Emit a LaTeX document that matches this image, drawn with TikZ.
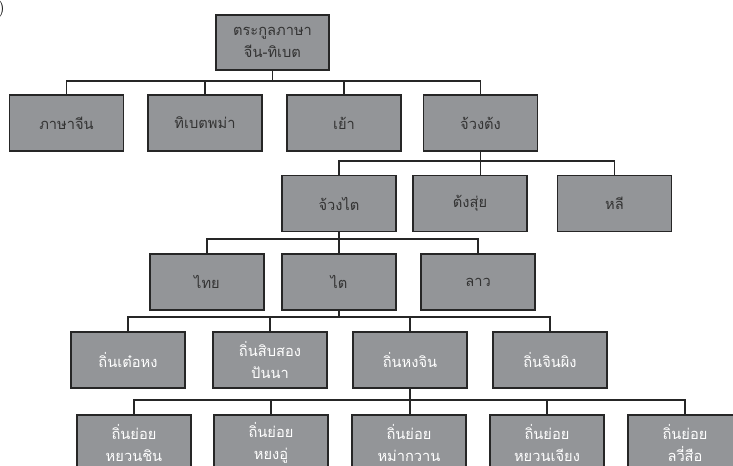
\documentclass[tikz,border=0pt]{standalone}
\usepackage{fontspec}
\newfontfamily\thaifont[Script=Thai]{Loma}
\usetikzlibrary{positioning}
\definecolor{boxgray}{HTML}{939598}
\definecolor{inkgray}{HTML}{333333}

\begin{document}
\begin{tikzpicture}[
        x=0.75pt, y=-0.75pt,
        lang/.style={draw=black!85, line width=0.9pt, rectangle, fill=boxgray, minimum width=85.5pt, minimum height=42pt, align=center, inner sep=0pt, text=inkgray, font=\thaifont\fontsize{11}{17}\selectfont},
        dialect/.style={lang, text=white},
        link/.style={draw=black!85, line width=0.8pt}
    ]
    \useasboundingbox (0,0) rectangle (733,465);
    \clip (0,0) rectangle (733,465);
    \node[anchor=north east, font=\fontsize{13}{13}\selectfont, inner sep=0pt] (mark) at (5,0) {)};

    % --- family ---
    \node[lang, minimum width=84.75pt, minimum height=41.25pt] (root) at (272.5,42.5) {ตระกูลภาษา\\จีน-ทิเบต};
    \coordinate (bus1) at (0,81);

    % --- branches ---
    \node[lang] (zh) at (66.5,123) {ภาษาจีน};
    \node[lang] (tb) at (205,123) {ทิเบตพม่า};
    \node[lang] (yao) at (344,123) {เย้า};
    \node[lang] (zd) at (480.5,123) {จ้วงต้ง};
    \draw[link] (root.south) -- (root.south |- bus1) -| (zh.north);
    \draw[link] (root.south) -- (root.south |- bus1) -| (tb.north);
    \draw[link] (root.south) -- (root.south |- bus1) -| (yao.north);
    \draw[link] (root.south) -- (root.south |- bus1) -| (zd.north);
    \coordinate (bus2) at (0,161);

    % --- Zhuang-Dong ---
    \node[lang] (zt) at (339,203.5) {จ้วงไต};
    \node[lang] (ks) at (470,203.5) {ต้งสุ่ย};
    \node[lang] (li) at (614.5,203.5) {หลี};
    \draw[link] (zd.south) -- (zd.south |- bus2) -| (zt.north);
    \draw[link] (zd.south) -- (ks.north -| zd.south);
    \draw[link] (zd.south) -- (zd.south |- bus2) -| (li.north);
    \coordinate (bus3) at (0,239);

    % --- Zhuang-Tai ---
    \node[lang] (thai) at (207,282) {ไทย};
    \node[lang] (tai) at (339,282) {ไต};
    \node[lang] (lao) at (478,282) {ลาว};
    \draw[link] (zt.south) -- (zt.south |- bus3) -| (thai.north);
    \draw[link] (zt.south) -- (tai.north);
    \draw[link] (zt.south) -- (zt.south |- bus3) -| (lao.north);
    \coordinate (bus4) at (0,317);

    % --- Tai dialects ---
    \node[dialect] (dh) at (128,360) {ถิ่นเต๋อหง};
    \node[dialect] (sp) at (270,360) {ถิ่นสิบสอง\\ปันนา};
    \node[dialect] (hj) at (410,360) {ถิ่นหงจิน};
    \node[dialect] (jp) at (550,360) {ถิ่นจินผิง};
    \draw[link] (tai.south) -- (tai.south |- bus4) -| (dh.north);
    \draw[link] (tai.south) -- (tai.south |- bus4) -| (sp.north);
    \draw[link] (tai.south) -- (tai.south |- bus4) -| (hj.north);
    \draw[link] (tai.south) -- (tai.south |- bus4) -| (jp.north);
    \coordinate (bus5) at (0,400);

    % --- Hongjin sub-dialects ---
    \node[dialect] (yx) at (134,443) {ถิ่นย่อย\\หยวนชิน};
    \node[dialect] (yw) at (271,443) {ถิ่นย่อย\\หยงอู่};
    \node[dialect] (mg) at (409,443) {ถิ่นย่อย\\หม่ากวาน};
    \node[dialect] (yj) at (547,443) {ถิ่นย่อย\\หยวนเจียง};
    \node[dialect] (lc) at (685,443) {ถิ่นย่อย\\ลวี่สือ};
    \draw[link] (hj.south) -- (hj.south |- bus5) -| (yx.north);
    \draw[link] (hj.south) -- (hj.south |- bus5) -| (yw.north);
    \draw[link] (hj.south) -- (mg.north -| hj.south);
    \draw[link] (hj.south) -- (hj.south |- bus5) -| (yj.north);
    \draw[link] (hj.south) -- (hj.south |- bus5) -| (lc.north);
\end{tikzpicture}
\end{document}
